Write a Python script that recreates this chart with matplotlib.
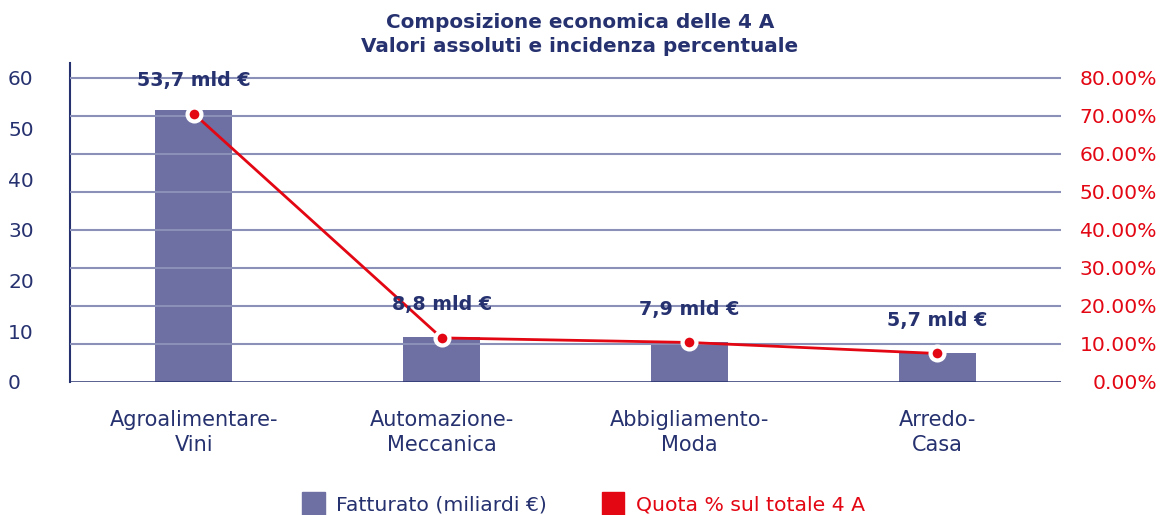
import matplotlib
matplotlib.use("Agg")
import matplotlib.pyplot as plt
from matplotlib.patches import Patch

plt.rcParams['font.family'] = ['DejaVu Sans']

# Data
categorie = ["Agroalimentare-\nVini", "Automazione-\nMeccanica", "Abbigliamento-\nModa", "Arredo-\nCasa"]
fatturato = [53.7, 8.8, 7.9, 5.7]          # miliardi di euro
quota = [70.6, 11.6, 10.4, 7.5]            # % sul totale 4 A
etichette = ["53,7 mld €", "8,8 mld €", "7,9 mld €", "5,7 mld €"]
ticks_sx = [0, 10, 20, 30, 40, 50, 60]
ticks_dx = [0, 10, 20, 30, 40, 50, 60, 70, 80]

navy = '#26316f'
bar_col = '#6e6fa2'
red = '#e30613'
grid_col = '#8a90b8'

fig = plt.figure(figsize=(11.6, 5.15), dpi=100)
ax = fig.add_axes([0.0603, 0.2583, 0.8544, 0.6194])
ax2 = ax.twinx()

x = range(len(categorie))
ax.bar(x, fatturato, width=0.31, color=bar_col, zorder=2)
ax.set_xlim(-0.5, 3.5)
ax.set_ylim(0, 62.96)
ax2.set_ylim(0, 83.95)

# gridlines follow the right axis
for t in ticks_dx:
    ax2.axhline(t, color=navy if t == 0 else grid_col, lw=1.5 if t else 1.8, zorder=0)

ax2.plot(x, quota, color=red, lw=2, marker='o', markersize=10,
         markerfacecolor=red, markeredgecolor='white', markeredgewidth=3, zorder=5)

for i, (q, lab) in enumerate(zip(quota, etichette)):
    ax2.annotate(lab, (i, q), xytext=(0, 24), textcoords='offset points',
                 ha='center', va='center', fontsize=13.7, fontweight='bold', color=navy, zorder=6)

ax.set_yticks(ticks_sx)
ax.set_yticklabels([str(t) for t in ticks_sx], fontsize=14.5, color=navy, ha='left')
ax.tick_params(axis='y', length=0, pad=44.6)
ax.set_xticks(list(x))
ax.set_xticklabels(categorie, fontsize=15, color=navy, linespacing=1.3)
ax.tick_params(axis='x', length=0, pad=20)

ax2.set_yticks(ticks_dx)
ax2.set_yticklabels([f"{t:.2f}%" for t in ticks_dx], fontsize=14.6, color=red, ha='right')
ax2.tick_params(axis='y', length=0, pad=69)

for a in (ax, ax2):
    for s in ['top', 'right', 'bottom']:
        a.spines[s].set_visible(False)
ax2.spines['left'].set_visible(False)
ax.spines['left'].set_color(navy)
ax.spines['left'].set_linewidth(1.5)

fig.text(0.5, 0.933, "Composizione economica delle 4 A\nValori assoluti e incidenza percentuale",
         ha='center', va='center', fontsize=14.4, fontweight='bold', color=navy, linespacing=1.3)

handles = [Patch(color=bar_col), Patch(color=red)]
leg = fig.legend(handles, ["Fatturato (miliardi €)", "Quota % sul totale 4 A"],
                 loc='center', bbox_to_anchor=(0.503, 0.022), ncol=2, frameon=False,
                 fontsize=14.7, handlelength=1.1, handleheight=1.4, columnspacing=2.7,
                 handletextpad=0.55, borderpad=0)
for txt, c in zip(leg.get_texts(), [navy, red]):
    txt.set_color(c)

fig.savefig("out.png", dpi=100)
